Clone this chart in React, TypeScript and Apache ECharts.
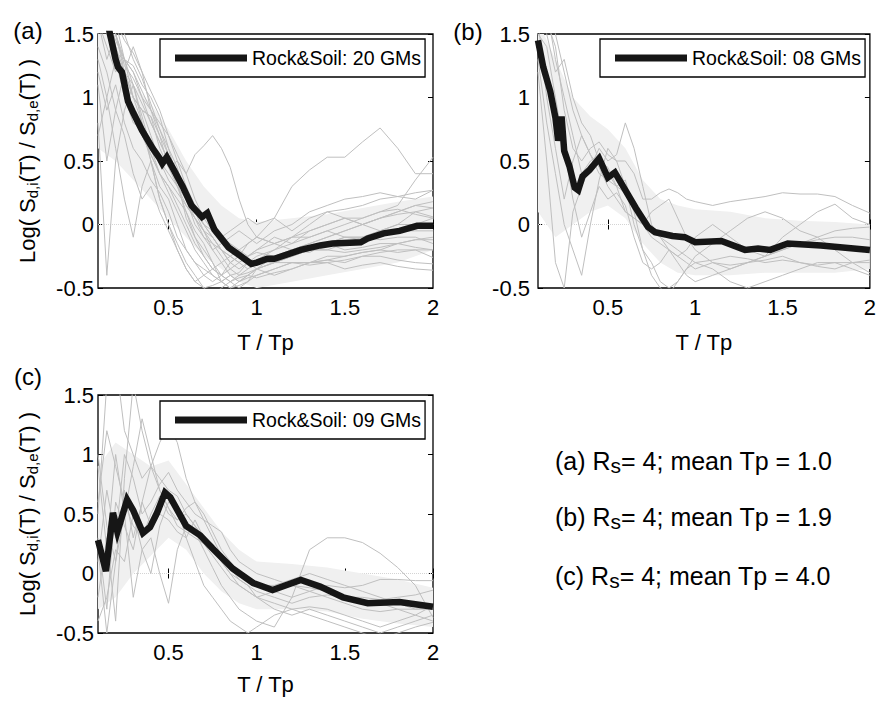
import React, { useEffect, useRef } from "react";
import * as echarts from "echarts";

const FONT = '"Liberation Sans", Arial, Helvetica, sans-serif';

// Shared abscissa (T/Tp) of the individual ground-motion curves
const GM_X = [0.1, 0.15, 0.2, 0.25, 0.3, 0.35, 0.4, 0.45, 0.5, 0.55, 0.6, 0.65, 0.7, 0.75, 0.8, 0.85, 0.9, 0.95, 1.0,
  1.1, 1.2, 1.3, 1.4, 1.5, 1.6, 1.7, 1.8, 1.9, 2.0];

const X_TICKS = [0.5, 1, 1.5, 2];

// ---------- Panel (a) ----------
const LEGEND_A = "Rock&Soil: 20 GMs";
const MEAN_A_X = [0.1, 0.14, 0.168, 0.2, 0.213, 0.236, 0.27, 0.3, 0.35, 0.41, 0.45, 0.465, 0.49, 0.53, 0.58, 0.63, 0.69, 0.72, 0.76, 0.84, 0.9, 0.97, 1.0, 1.06, 1.1, 1.25, 1.36, 1.43, 1.59, 1.63, 1.72, 1.81, 1.91, 2.0];
const MEAN_A_Y = [1.95, 1.7, 1.5, 1.3, 1.24, 1.2, 0.97, 0.88, 0.74, 0.6, 0.52, 0.48, 0.53, 0.43, 0.3, 0.15, 0.06, 0.09, -0.04, -0.18, -0.24, -0.31, -0.3, -0.27, -0.27, -0.2, -0.165, -0.15, -0.14, -0.11, -0.07, -0.05, -0.01, -0.01];
const BAND_X = [0.1, 0.2, 0.3, 0.4, 0.5, 0.6, 0.7, 0.8, 0.9, 1.0, 1.2, 1.4, 1.6, 1.8, 2.0];
const BAND_A_UP = [1.9, 1.5, 1.1, 0.95, 0.75, 0.5, 0.3, 0.15, 0.05, 0.02, 0.05, 0.08, 0.13, 0.18, 0.22];
const BAND_A_LO = [0.6, 0.5, 0.35, 0.2, 0.05, -0.1, -0.25, -0.35, -0.45, -0.5, -0.45, -0.4, -0.35, -0.3, -0.2];
const GMS_A = [
  [2.0, 1.8, 1.5, 1.3, 1.1, 0.95, 0.8, 0.65, 0.5, 0.35, 0.2, 0.05, -0.05, -0.15, -0.2, -0.25, -0.2, -0.15, -0.1, 0.05, 0.3, 0.43, 0.53, 0.53, 0.65, 0.76, 0.6, 0.4, 0.4],
  [1.6, 1.4, 1.2, 1.3, 1.0, 0.9, 0.85, 0.6, 0.45, 0.5, 0.4, 0.55, 0.62, 0.7, 0.6, 0.45, 0.2, 0.0, -0.1, -0.15, -0.2, -0.15, -0.1, -0.05, 0.0, 0.05, 0.1, 0.15, 0.18],
  [1.8, 1.7, 1.4, 1.2, 1.1, 0.85, 0.6, 0.4, 0.3, 0.15, 0.0, -0.15, -0.25, -0.35, -0.4, -0.35, -0.3, -0.25, -0.2, -0.1, -0.15, -0.05, 0.0, 0.05, 0.05, 0.1, 0.15, 0.35, 0.53],
  [0.8, -0.4, 0.5, 0.9, 1.1, 0.8, 0.5, 0.3, 0.2, 0.0, -0.2, -0.3, -0.4, -0.45, -0.4, -0.3, -0.25, -0.3, -0.35, -0.3, -0.25, -0.2, -0.15, -0.1, -0.12, -0.1, -0.05, 0.0, 0.05],
  [2.2, 1.9, 1.6, 1.45, 1.35, 1.2, 1.05, 0.9, 0.7, 0.5, 0.3, 0.1, -0.05, -0.2, -0.3, -0.4, -0.45, -0.4, -0.35, -0.3, -0.25, -0.2, -0.2, -0.15, -0.1, -0.05, 0.0, 0.1, 0.13],
  [1.5, 1.7, 1.3, 1.1, 0.9, 0.7, 0.55, 0.4, 0.3, 0.2, 0.1, -0.05, -0.15, -0.3, -0.45, -0.5, -0.48, -0.45, -0.4, -0.35, -0.3, -0.3, -0.25, -0.25, -0.22, -0.2, -0.15, -0.12, -0.1],
  [2.0, 1.6, 1.45, 1.3, 1.25, 1.1, 1.0, 0.85, 0.6, 0.45, 0.2, 0.0, -0.1, -0.2, -0.15, -0.1, -0.05, -0.1, -0.15, -0.05, 0.0, 0.1, 0.15, 0.2, 0.22, 0.25, 0.22, 0.2, 0.27],
  [1.3, 1.0, 0.6, 0.2, -0.1, 0.3, 0.5, 0.2, 0.0, -0.15, -0.3, -0.4, -0.5, -0.55, -0.5, -0.45, -0.4, -0.38, -0.35, -0.3, -0.3, -0.32, -0.3, -0.28, -0.25, -0.25, -0.28, -0.3, -0.31],
  [1.9, 1.5, 1.3, 1.2, 1.0, 0.9, 0.7, 0.5, 0.35, 0.25, 0.15, 0.05, -0.05, -0.1, -0.2, -0.3, -0.35, -0.3, -0.25, -0.2, -0.1, -0.05, 0.0, 0.05, 0.0, -0.05, -0.05, -0.05, -0.05],
  [2.5, 2.0, 1.6, 1.3, 1.2, 1.0, 0.8, 0.65, 0.5, 0.3, 0.1, -0.1, -0.25, -0.35, -0.4, -0.45, -0.42, -0.4, -0.35, -0.4, -0.35, -0.3, -0.3, -0.35, -0.32, -0.3, -0.33, -0.35, -0.36],
  [1.1, 0.5, 0.9, 1.2, 1.4, 1.2, 0.9, 0.7, 0.55, 0.4, 0.3, 0.15, 0.0, -0.1, -0.2, -0.3, -0.25, -0.15, -0.1, -0.15, -0.1, -0.1, -0.05, -0.1, -0.1, -0.12, -0.1, -0.1, -0.15],
  [2.0, 1.8, 1.5, 1.25, 1.15, 1.0, 0.9, 0.75, 0.6, 0.35, 0.05, -0.1, -0.2, -0.3, -0.4, -0.45, -0.5, -0.45, -0.35, -0.25, -0.2, -0.15, -0.1, -0.05, 0.0, 0.05, 0.08, 0.1, 0.06],
  [0.7, 1.0, 1.3, 1.0, 0.8, 0.75, 0.5, 0.2, 0.0, -0.2, -0.35, -0.45, -0.5, -0.48, -0.45, -0.4, -0.45, -0.42, -0.4, -0.35, -0.3, -0.3, -0.28, -0.25, -0.22, -0.2, -0.22, -0.2, -0.2],
  [1.7, 1.5, 1.35, 1.3, 1.2, 1.05, 0.9, 0.8, 0.7, 0.55, 0.4, 0.2, 0.05, -0.05, -0.1, -0.05, 0.0, 0.05, 0.0, 0.05, -0.05, 0.05, 0.1, 0.05, 0.0, 0.05, 0.1, 0.15, 0.13],
  [1.4, 1.2, 0.9, 0.7, 0.4, 0.2, 0.3, 0.1, -0.05, -0.2, -0.35, -0.45, -0.4, -0.35, -0.3, -0.25, -0.3, -0.35, -0.3, -0.3, -0.25, -0.2, -0.2, -0.22, -0.2, -0.18, -0.15, -0.12, -0.12],
  [2.3, 2.0, 1.7, 1.5, 1.3, 1.15, 0.95, 0.75, 0.55, 0.4, 0.25, 0.1, 0.0, -0.1, -0.2, -0.25, -0.3, -0.25, -0.2, -0.15, -0.1, 0.0, 0.1, 0.12, 0.15, 0.2, 0.22, 0.25, 0.27],
  [1.2, 0.9, 1.1, 0.8, 0.6, 0.5, 0.35, 0.25, 0.1, -0.1, -0.2, -0.3, -0.35, -0.4, -0.45, -0.5, -0.45, -0.4, -0.42, -0.38, -0.35, -0.3, -0.28, -0.3, -0.25, -0.22, -0.2, -0.2, -0.26],
  [1.6, 1.3, 1.5, 1.2, 1.0, 0.9, 0.85, 0.7, 0.45, 0.3, 0.15, 0.05, -0.1, -0.15, -0.25, -0.35, -0.4, -0.35, -0.3, -0.25, -0.2, -0.22, -0.15, -0.1, -0.1, -0.05, 0.0, 0.0, 0.0],
  [1.9, 1.6, 1.35, 1.2, 1.0, 0.8, 0.6, 0.5, 0.4, 0.3, 0.2, 0.1, 0.0, -0.05, -0.1, -0.15, -0.2, -0.25, -0.22, -0.25, -0.2, -0.18, -0.15, -0.2, -0.18, -0.15, -0.15, -0.18, -0.2],
  [2.1, 1.7, 1.4, 1.1, 0.85, 0.7, 0.55, 0.4, 0.25, 0.1, -0.05, -0.2, -0.3, -0.4, -0.45, -0.4, -0.38, -0.3, -0.28, -0.2, -0.15, -0.1, -0.05, 0.0, 0.05, 0.1, 0.12, 0.08, 0.05],
];

// ---------- Panel (b) ----------
const LEGEND_B = "Rock&Soil: 08 GMs";
const MEAN_B_X = [0.1, 0.13, 0.17, 0.2, 0.215, 0.235, 0.25, 0.28, 0.31, 0.33, 0.355, 0.395, 0.45, 0.5, 0.54, 0.6, 0.66, 0.73, 0.77, 0.87, 0.94, 1.0, 1.15, 1.285, 1.36, 1.43, 1.53, 1.72, 2.0];
const MEAN_B_Y = [1.45, 1.24, 1.05, 0.84, 0.66, 0.85, 0.58, 0.46, 0.29, 0.27, 0.38, 0.43, 0.52, 0.37, 0.41, 0.27, 0.13, -0.02, -0.06, -0.09, -0.1, -0.14, -0.13, -0.2, -0.19, -0.2, -0.15, -0.165, -0.2];
const BAND_B_UP = [1.6, 1.3, 1.0, 0.85, 0.75, 0.6, 0.35, 0.2, 0.15, 0.12, 0.1, 0.05, 0.03, 0.02, 0.0];
const BAND_B_LO = [0.1, -0.1, 0.0, 0.1, 0.15, 0.05, -0.15, -0.3, -0.38, -0.4, -0.4, -0.38, -0.38, -0.38, -0.35];
const GMS_B = [
  [2.0, 1.6, 1.4, 0.9, 0.6, 0.5, 0.6, 0.65, 0.55, 0.5, 0.5, 0.4, 0.2, 0.2, 0.25, 0.28, 0.25, 0.2, 0.18, 0.15, 0.18, 0.2, 0.22, 0.25, 0.24, 0.24, 0.22, 0.15, 0.09],
  [1.2, 0.5, -0.3, -0.5, 0.1, 0.3, 0.45, 0.6, 0.5, 0.55, 0.8, 0.6, 0.3, 0.0, -0.1, -0.2, -0.25, -0.3, -0.35, -0.3, -0.32, -0.3, -0.28, -0.25, -0.3, -0.33, -0.35, -0.3, -0.28],
  [1.8, 1.7, 1.3, 1.0, 0.7, 0.4, 0.5, 0.55, 0.4, 0.3, 0.25, 0.1, 0.0, -0.1, -0.15, -0.2, -0.25, -0.2, -0.1, 0.0, -0.1, -0.2, -0.25, -0.1, 0.0, 0.1, 0.16, 0.05, 0.0],
  [1.5, 1.4, 1.0, 0.6, 0.2, -0.1, 0.1, 0.3, 0.2, 0.25, 0.15, -0.1, -0.3, -0.35, -0.3, -0.2, -0.3, -0.4, -0.45, -0.4, -0.35, -0.3, -0.25, -0.2, -0.15, -0.1, -0.05, -0.03, -0.02],
  [1.9, 1.5, 1.2, 1.3, 1.0, 0.8, 0.7, 0.5, 0.45, 0.3, 0.1, 0.05, 0.0, 0.1, 0.15, 0.2, 0.05, -0.1, -0.2, -0.3, -0.35, -0.3, -0.25, -0.2, -0.15, -0.12, -0.1, -0.1, -0.12],
  [1.3, 0.8, 0.4, 0.0, -0.2, -0.4, 0.0, 0.35, 0.6, 0.5, 0.3, 0.0, -0.2, -0.3, -0.45, -0.5, -0.45, -0.35, -0.25, -0.15, -0.05, 0.05, 0.1, 0.05, -0.05, -0.1, -0.2, -0.3, -0.38],
  [2.2, 1.9, 1.5, 1.2, 0.9, 0.7, 0.55, 0.45, 0.3, 0.2, 0.1, 0.05, 0.0, -0.05, -0.1, -0.15, -0.2, -0.25, -0.3, -0.28, -0.25, -0.27, -0.3, -0.28, -0.3, -0.32, -0.3, -0.3, -0.3],
  [1.6, 1.0, 0.6, 0.2, 0.5, 0.7, 0.55, 0.4, 0.35, 0.3, 0.35, 0.1, -0.2, -0.4, -0.5, -0.55, -0.45, -0.35, -0.3, -0.35, -0.45, -0.5, -0.45, -0.4, -0.35, -0.3, -0.3, -0.35, -0.4],
];

// ---------- Panel (c) ----------
const LEGEND_C = "Rock&Soil: 09 GMs";
const MEAN_C_X = [0.1, 0.145, 0.185, 0.21, 0.265, 0.3, 0.355, 0.395, 0.435, 0.48, 0.51, 0.6, 0.68, 0.75, 0.865, 0.98, 1.09, 1.25, 1.36, 1.49, 1.63, 1.81, 2.0];
const MEAN_C_Y = [0.28, 0.02, 0.51, 0.35, 0.62, 0.53, 0.34, 0.39, 0.51, 0.68, 0.64, 0.4, 0.32, 0.21, 0.04, -0.08, -0.14, -0.055, -0.11, -0.2, -0.25, -0.24, -0.28];
const BAND_C_UP = [0.9, 1.1, 1.0, 0.9, 0.95, 0.75, 0.55, 0.35, 0.2, 0.1, 0.08, 0.05, 0.0, -0.05, -0.12];
const BAND_C_LO = [-0.3, -0.2, 0.0, 0.15, 0.3, 0.2, 0.0, -0.15, -0.25, -0.3, -0.3, -0.32, -0.38, -0.42, -0.45];
const GMS_C = [
  [0.5, 1.6, 1.8, 1.2, 1.0, 0.8, 0.9, 0.7, 0.55, 0.45, 0.5, 0.4, 0.3, 0.25, 0.15, 0.05, -0.05, -0.1, -0.15, -0.2, -0.25, -0.2, -0.18, -0.2, -0.22, -0.25, -0.3, -0.35, -0.4],
  [-0.2, 0.3, -0.4, 0.8, 1.6, 1.2, 0.9, 0.8, 0.7, 0.65, 0.5, 0.4, 0.3, 0.2, 0.1, 0.0, -0.05, -0.1, -0.2, -0.3, -0.35, -0.3, -0.35, -0.4, -0.45, -0.5, -0.45, -0.4, -0.35],
  [0.3, -0.3, 0.6, 0.4, 0.2, 0.6, 0.9, 1.1, 1.25, 1.1, 0.8, 0.6, 0.45, 0.3, 0.15, 0.05, 0.0, -0.05, -0.1, -0.15, -0.2, -0.15, -0.1, -0.12, -0.1, -0.05, -0.05, -0.06, -0.06],
  [0.9, 0.2, 1.0, 0.5, -0.2, 0.2, 0.3, 0.0, -0.25, 0.2, 0.4, 0.35, 0.2, 0.05, -0.1, -0.2, -0.3, -0.35, -0.4, -0.45, -0.2, 0.2, 0.3, 0.3, 0.26, 0.17, 0.05, -0.1, -0.37],
  [0.1, 0.7, 0.3, 1.0, 0.8, 0.5, 0.6, 0.75, 0.85, 0.7, 0.6, 0.5, 0.45, 0.4, 0.35, 0.2, 0.1, 0.05, 0.0, -0.05, -0.1, -0.12, -0.15, -0.2, -0.2, -0.22, -0.2, -0.18, -0.14],
  [-0.4, -0.2, 0.2, 0.1, 0.5, 0.2, 0.0, 0.4, 0.6, 0.55, 0.3, 0.1, -0.1, -0.2, -0.3, -0.4, -0.45, -0.5, -0.45, -0.35, -0.3, -0.28, -0.3, -0.35, -0.4, -0.45, -0.4, -0.35, -0.27],
  [0.6, 1.2, 0.9, 0.6, 0.4, 0.3, 0.5, 0.65, 0.5, 0.45, 0.55, 0.6, 0.5, 0.35, 0.2, 0.1, 0.0, -0.05, -0.1, -0.1, -0.05, 0.0, -0.05, -0.1, -0.15, -0.2, -0.25, -0.3, -0.3],
  [0.2, -0.5, 0.1, 0.5, 0.9, 1.3, 1.0, 0.7, 0.55, 0.4, 0.35, 0.3, 0.25, 0.15, 0.05, -0.05, -0.1, -0.15, -0.2, -0.25, -0.3, -0.35, -0.4, -0.45, -0.5, -0.55, -0.5, -0.45, -0.41],
  [1.0, 0.4, 0.1, 0.7, 0.3, 0.6, 0.4, 0.5, 0.45, 0.35, 0.3, 0.45, 0.3, 0.2, 0.1, 0.0, -0.1, -0.15, -0.2, -0.15, -0.1, -0.15, -0.2, -0.25, -0.3, -0.32, -0.3, -0.3, -0.28],
];

const NOTES = [
  "(a) R{s|s}= 4; mean Tp = 1.0",
  "(b) R{s|s}= 4; mean Tp = 1.9",
  "(c) R{s|s}= 4; mean Tp = 4.0",
];

const Y_NAME = "Log( S{s|d,i}(T) / S{s|d,e}(T) )";
const X_NAME = "T / Tp";

type Panel = {
  label: string;
  grid: { left: number; top: number; width: number; height: number };
  meanX: number[]; meanY: number[];
  up: number[]; lo: number[];
  gms: number[][];
  legend: string;
  yName: boolean;
  yLabelMargin: number;
  xNameGap: number;
  labelPos: [number, number];
};

const PANELS: Panel[] = [
  { label: "(a)", grid: { left: 98, top: 34, width: 335, height: 254 }, meanX: MEAN_A_X, meanY: MEAN_A_Y, up: BAND_A_UP, lo: BAND_A_LO, gms: GMS_A, legend: LEGEND_A, yName: true, yLabelMargin: 4, xNameGap: 43, labelPos: [28, 30] },
  { label: "(b)", grid: { left: 538, top: 34, width: 335, height: 254 }, meanX: MEAN_B_X, meanY: MEAN_B_Y, up: BAND_B_UP, lo: BAND_B_LO, gms: GMS_B, legend: LEGEND_B, yName: false, yLabelMargin: 8, xNameGap: 43, labelPos: [468, 31] },
  { label: "(c)", grid: { left: 98, top: 395, width: 335, height: 238 }, meanX: MEAN_C_X, meanY: MEAN_C_Y, up: BAND_C_UP, lo: BAND_C_LO, gms: GMS_C, legend: LEGEND_C, yName: true, yLabelMargin: 4, xNameGap: 40, labelPos: [28, 376] },
];

function buildOption() {
  const grids: any[] = [];
  const xAxes: any[] = [];
  const yAxes: any[] = [];
  const series: any[] = [];
  const legends: any[] = [];
  const graphics: any[] = [];

  PANELS.forEach((p, i) => {
    grids.push({ ...p.grid, show: true, borderColor: "#000", borderWidth: 1.3, backgroundColor: "transparent", containLabel: false });
    const tickStyle = { show: true, inside: true, length: 5, lineStyle: { color: "#000", width: 1 } };
    xAxes.push({
      gridIndex: i, type: "value", min: 0.1, max: 2, position: "bottom",
      axisLine: { show: false },
      axisTick: { ...tickStyle, customValues: X_TICKS },
      axisLabel: { customValues: X_TICKS, fontSize: 22, fontFamily: FONT, color: "#000", margin: 8 },
      splitLine: { show: false },
      name: X_NAME, nameLocation: "middle", nameGap: p.xNameGap,
      nameTextStyle: { fontSize: 22, fontFamily: FONT, color: "#000" },
    });
    xAxes.push({
      gridIndex: i, type: "value", min: 0.1, max: 2, position: "top",
      axisLine: { show: false },
      axisTick: { ...tickStyle, customValues: X_TICKS },
      axisLabel: { show: false },
      splitLine: { show: false },
    });
    yAxes.push({
      gridIndex: i, type: "value", min: -0.5, max: 1.5, interval: 0.5, position: "left",
      axisLine: { show: false },
      axisTick: tickStyle,
      axisLabel: { fontSize: 22, fontFamily: FONT, color: "#000", margin: p.yLabelMargin },
      splitLine: { show: false },
      name: p.yName ? Y_NAME : "",
      nameLocation: "middle", nameGap: 58,
      nameTextStyle: {
        fontSize: 22, fontFamily: FONT, color: "#000",
        rich: { s: { fontSize: 15, fontFamily: FONT, color: "#000", verticalAlign: "top", padding: [10, 0, 0, 0] } },
      },
    });
    yAxes.push({
      gridIndex: i, type: "value", min: -0.5, max: 1.5, interval: 0.5, position: "right",
      axisLine: { show: false },
      axisTick: tickStyle,
      axisLabel: { show: false },
      splitLine: { show: false },
    });

    const xi = 2 * i;
    const yi = 2 * i;
    // shaded band between lower and upper envelopes, drawn through the axes
    series.push({
      type: "custom", xAxisIndex: xi, yAxisIndex: yi, silent: true, clip: true, z: 1,
      data: [[BAND_X[0], p.lo[0]]],
      renderItem: (_params: any, api: any) => {
        const top = BAND_X.map((x, k) => api.coord([x, p.up[k]]));
        const bot = BAND_X.map((x, k) => api.coord([x, p.lo[k]])).reverse();
        return {
          type: "polygon",
          shape: { points: top.concat(bot) },
          style: { fill: "#f0f0f0", stroke: "none" },
        };
      },
    });
    p.gms.forEach((v) => {
      series.push({
        type: "line", xAxisIndex: xi, yAxisIndex: yi, silent: true, symbol: "none",
        data: v.map((y, k) => [GM_X[k], y]),
        lineStyle: { color: "#bfbfbf", width: 1 }, z: 2,
      });
    });
    series.push({
      name: p.legend, type: "line", xAxisIndex: xi, yAxisIndex: yi, symbol: "none",
      color: "#161616",
      data: p.meanX.map((x, k) => [x, p.meanY[k]]),
      lineStyle: { color: "#161616", width: 6.5, join: "miter" }, z: 5,
      markLine: {
        silent: true, symbol: "none", label: { show: false }, z: 1,
        lineStyle: { color: "#d4d4d4", type: "dotted", width: 1 },
        data: [{ yAxis: 0 }],
      },
    });

    legends.push({
      data: [{ name: p.legend, icon: "rect" }],
      left: p.grid.left + 62, top: p.grid.top + 5 + (i === 2 ? 1 : 0),
      orient: "horizontal", itemWidth: 72, itemHeight: 7,
      padding: [9, 4, 9, 15],
      borderColor: "#000", borderWidth: 1.3, backgroundColor: "#fff",
      selectedMode: false,
      textStyle: { fontSize: 19.5, fontFamily: FONT, color: "#000" },
    });

    graphics.push({
      type: "text", silent: true,
      style: { text: p.label, x: p.labelPos[0], y: p.labelPos[1], align: "center", verticalAlign: "middle", fontSize: 24, fontFamily: FONT, fill: "#000" },
    });
  });

  const noteY = [461, 517, 576];
  NOTES.forEach((t, k) => {
    graphics.push({
      type: "text", silent: true,
      style: {
        text: t, x: 555, y: noteY[k], align: "left", verticalAlign: "middle",
        fontSize: 25, fontFamily: FONT, fill: "#000",
        rich: { s: { fontSize: 21, fontFamily: FONT, fill: "#000", verticalAlign: "top", padding: [9, 0, 0, 0] } },
      },
    });
  });

  return {
    animation: false,
    backgroundColor: "#fff",
    grid: grids,
    xAxis: xAxes,
    yAxis: yAxes,
    legend: legends,
    series,
    graphic: graphics,
  };
}

export default function App() {
  const ref = useRef<HTMLDivElement>(null);
  useEffect(() => {
    if (!ref.current) return;
    const chart = echarts.init(ref.current, undefined, { renderer: "svg" });
    chart.setOption(buildOption() as any);
    return () => chart.dispose();
  }, []);
  return <div ref={ref} style={{ position: "fixed", left: 0, top: 0, width: 879, height: 702, background: "#fff" }} />;
}
